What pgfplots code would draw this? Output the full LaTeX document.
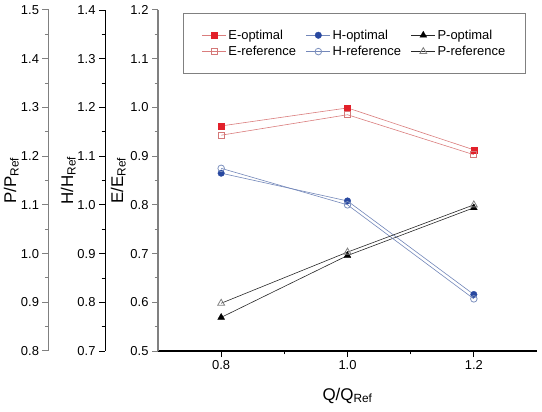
\documentclass[border=0pt]{standalone}
\usepackage{pgfplots}
\pgfplotsset{compat=1.18}
\usepackage{pgfplotstable}
\usepackage{fontspec}
\setmainfont{Liberation Sans}
\definecolor{ered}{RGB}{226,32,42}
\definecolor{eline}{RGB}{218,125,125}
\definecolor{eopen}{RGB}{212,120,120}
\definecolor{hblue}{RGB}{40,72,160}
\definecolor{hline}{RGB}{115,135,185}
\definecolor{hopen}{RGB}{125,145,190}
\definecolor{pline}{RGB}{40,40,40}
\definecolor{axgray}{RGB}{128,128,128}

\pgfplotstableread{
Q    Eopt   Eref   Hopt   Href   Popt   Pref
0.8  0.962  0.943  1.065  1.075  0.869  0.898
1.0  0.999  0.985  1.008  1.000  0.996  1.003
1.2  0.913  0.903  0.816  0.807  1.094  1.100
}\datatable

\newcommand{\sub}[1]{\textsubscript{#1}}

\begin{document}
\begin{tikzpicture}
\path[use as bounding box] (0,0) rectangle (542bp,412bp);
\pgfplotsset{
  every axis/.append style={
    scale only axis, height=341bp,
    font=\fontsize{13}{15}\selectfont,
    tick align=outside,
    major tick length=6bp, minor tick length=3.5bp,
    /pgf/number format/assume math mode=true,
    yticklabel style={/pgf/number format/.cd, fixed, fixed zerofill, precision=1},
    xticklabel style={/pgf/number format/.cd, fixed, fixed zerofill, precision=1},
    every axis y label/.style={rotate=90, anchor=base, font=\fontsize{17}{19}\selectfont},
    every axis x label/.style={anchor=base, font=\fontsize{17}{19}\selectfont},
    minor y tick num=1,
  },
}
% P axis
\begin{axis}[at={(48.5bp,61bp)}, anchor=south west, width=10bp,
  axis x line=none, axis y line*=left,
  xmin=0, xmax=1, ymin=0.8, ymax=1.5,
  ytick={0.8,0.9,1.0,1.1,1.2,1.3,1.4,1.5},
  y axis line style={axgray, line width=1.5bp},
  every y tick/.style={axgray, line width=1bp},
  ylabel={P/P\sub{Ref}},
  ylabel style={at={(axis description cs:-3.25,0.5)}},
]
\addplot[draw=none] coordinates {(0.5,1.0)};
\end{axis}
% H axis
\begin{axis}[at={(105bp,61bp)}, anchor=south west, width=10bp,
  axis x line=none, axis y line*=left,
  xmin=0, xmax=1, ymin=0.7, ymax=1.4,
  ytick={0.7,0.8,0.9,1.0,1.1,1.2,1.3,1.4},
  y axis line style={black, line width=0.9bp},
  every y tick/.style={black, line width=0.8bp},
  ylabel={H/H\sub{Ref}},
  ylabel style={at={(axis description cs:-3.2,0.5)}},
]
\addplot[draw=none] coordinates {(0.5,1.0)};
\end{axis}
% Main E axis
\begin{axis}[at={(158bp,61bp)}, anchor=south west, width=379bp,
  axis x line*=bottom, axis y line*=left,
  xmin=0.7, xmax=1.3, ymin=0.5, ymax=1.2,
  xtick={0.8,1.0,1.2}, minor xtick={0.9,1.1},
  ytick={0.5,0.6,0.7,0.8,0.9,1.0,1.1,1.2},
  y axis line style={axgray, line width=1.5bp},
  x axis line style={black, line width=1.2bp},
  every y tick/.style={axgray, line width=1bp},
  every x tick/.style={black, line width=1bp},
  ylabel={E/E\sub{Ref}},
  ylabel style={at={(axis description cs:-0.0923,0.5)}},
  xlabel={Q/Q\sub{Ref}},
  xlabel style={at={(axis description cs:0.5,-0.1437)}},
  legend columns=3,
  legend cell align=left,
  legend style={at={(rel axis cs:0.5185,0.99)}, anchor=north,
    draw=axgray, line width=0.8bp, inner xsep=18bp, inner ysep=14bp,
    font=\fontsize{13}{15}\selectfont,
    row sep=1.5bp,
    /tikz/every even column/.append style={column sep=8bp}},
  legend image code/.code={
    \draw[mark repeat=2,mark phase=2] plot coordinates {(0bp,0bp) (12bp,0bp) (24bp,0bp)};
  },
]
\addplot[eline, line width=0.6bp, mark=square*, mark size=3bp, mark options={ered, fill=ered, line width=0.3bp}]
  table[x=Q, y=Eopt] {\datatable};
\addlegendentry{E-optimal}
\addplot[hline, line width=0.6bp, mark=*, mark size=3.3bp, mark options={hblue, fill=hblue, line width=0.3bp}]
  table[x=Q, y expr=\thisrow{Hopt}-0.2] {\datatable};
\addlegendentry{H-optimal}
\addplot[pline, line width=0.6bp, mark=triangle*, mark size=4bp, mark options={black, fill=black, line width=0.3bp}]
  table[x=Q, y expr=\thisrow{Popt}-0.3] {\datatable};
\addlegendentry{P-optimal}
\addplot[eline, line width=0.6bp, mark=square, mark size=3bp, mark options={eopen, fill=white, line width=0.8bp}]
  table[x=Q, y=Eref] {\datatable};
\addlegendentry{E-reference}
\addplot[hline, line width=0.6bp, mark=o, mark size=3.3bp, mark options={hopen, fill=white, line width=0.8bp}]
  table[x=Q, y expr=\thisrow{Href}-0.2] {\datatable};
\addlegendentry{H-reference}
\addplot[pline, line width=0.6bp, mark=triangle, mark size=4bp, mark options={gray, fill=white, line width=0.8bp}]
  table[x=Q, y expr=\thisrow{Pref}-0.3] {\datatable};
\addlegendentry{P-reference}
\end{axis}
\end{tikzpicture}
\end{document}
